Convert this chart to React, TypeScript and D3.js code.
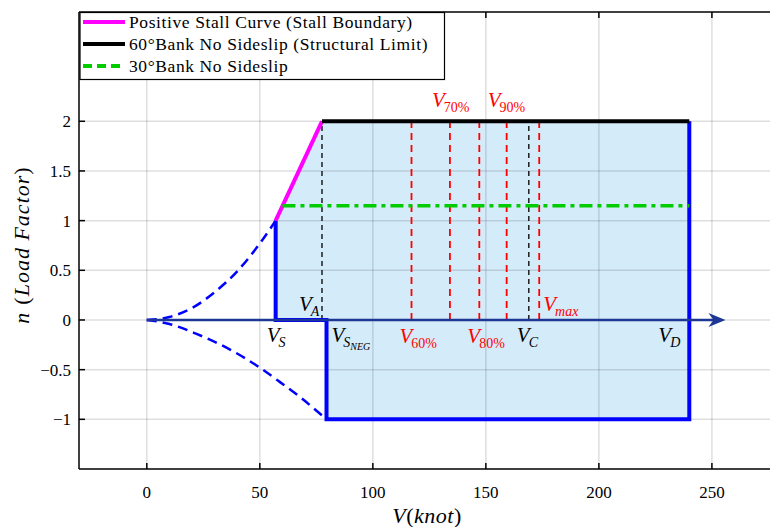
import React from "react";
import * as d3 from "d3";

// ---- data ----
const xTicks = [0, 50, 100, 150, 200, 250];
const yTicks = [-1, -0.5, 0, 0.5, 1, 1.5, 2];
const yTickLabels = ["\u22121", "\u22120.5", "0", "0.5", "1", "1.5", "2"];

const V_S = 57;
const V_A = 77.5;
const V_SNEG = 79.5;
const V_C = 169;
const V_D = 240;
const V_PCT = [117.1, 134.1, 147.1, 159.2];
const V_PCT_LABELS = ["60%", "70%", "80%", "90%"];
const V_MAX = 173.6;
const N_POS = 2;
const N_NEG = -1;
const N_30 = 1.15;
const V_30_START = 60;
const V_ARROW_END = 256;

// dashed stall curves
const posCurveV = [0, 10, 20, 30, 40, 50, 57];
const posCurveN = [0, 0.03, 0.12, 0.28, 0.49, 0.77, 1];
const negCurveV = [0, 10, 22, 37, 50, 58, 68, 79.5];
const negCurveN = [0, -0.04, -0.14, -0.3, -0.48, -0.61, -0.78, -1];

const legendLabels = [
  "Positive Stall Curve (Stall Boundary)",
  "60\u00b0Bank No Sideslip (Structural Limit)",
  "30\u00b0Bank No Sideslip",
];

const W = 770;
const H = 527;
const L = 79, R = 770, T = 12, B = 469;

const x = d3.scaleLinear().domain([-30, 275.7]).range([L, R]);
const y = d3.scaleLinear().domain([-1.5, 3.1]).range([B, T]);

const serif = "Times New Roman";

const line = d3
  .line<[number, number]>()
  .x((d) => x(d[0]))
  .y((d) => y(d[1]));
const curveLine = d3
  .line<[number, number]>()
  .x((d) => x(d[0]))
  .y((d) => y(d[1]))
  .curve(d3.curveMonotoneX);

function Sub({
  xPos,
  yPos,
  main,
  sub,
  sub2,
  color,
  subItalic,
}: {
  xPos: number;
  yPos: number;
  main: string;
  sub: string;
  sub2?: string;
  color: string;
  subItalic?: boolean;
}) {
  return (
    <text x={xPos} y={yPos} fill={color} style={{ fontFamily: serif }}>
      <tspan fontStyle="italic" fontSize={21}>
        {main}
      </tspan>
      <tspan fontStyle={subItalic ? "italic" : "normal"} fontSize={14} dy={5} dx={-1}>
        {sub}
      </tspan>
      {sub2 ? (
        <tspan fontStyle="italic" fontSize={10} dy={3}>
          {sub2}
        </tspan>
      ) : null}
    </text>
  );
}

export default function App() {
  const posCurve = posCurveV.map((v, i) => [v, posCurveN[i]] as [number, number]);
  const negCurve = negCurveV.map((v, i) => [v, negCurveN[i]] as [number, number]);

  const envelope: [number, number][] = [
    [V_S, 0],
    [V_S, 1],
    [V_A, N_POS],
    [V_D, N_POS],
    [V_D, N_NEG],
    [V_SNEG, N_NEG],
    [V_SNEG, 0],
  ];
  const blueOutline1: [number, number][] = [
    [V_S, 1],
    [V_S, 0],
    [V_SNEG, 0],
    [V_SNEG, N_NEG],
    [V_D, N_NEG],
    [V_D, N_POS],
  ];

  const y0 = y(0);
  const ax = x(V_ARROW_END);

  return (
    <svg
      width={W}
      height={H}
      style={{ position: "absolute", left: 0, top: 0, background: "#fff" }}
    >
      <defs>
        <clipPath id="plotClip">
          <rect x={L} y={T} width={R - L} height={B - T} />
        </clipPath>
      </defs>

      <path d={(line(envelope) || "") + "Z"} fill="#d4ebfa" />

      <g stroke="#000" strokeOpacity={0.13} strokeWidth={1.5}>
        {xTicks.map((t) => (
          <line key={"gx" + t} x1={x(t)} x2={x(t)} y1={T} y2={B} />
        ))}
        {yTicks.map((t) => (
          <line key={"gy" + t} x1={L} x2={R} y1={y(t)} y2={y(t)} />
        ))}
      </g>

      <g clipPath="url(#plotClip)">
        <path d={curveLine(posCurve) || ""} fill="none" stroke="#0000ff" strokeWidth={2.5} strokeDasharray="10,6" />
        <path d={curveLine(negCurve) || ""} fill="none" stroke="#0000ff" strokeWidth={2.5} strokeDasharray="10,6" />

        {[V_A, V_C].map((v) => (
          <line key={"k" + v} x1={x(v)} x2={x(v)} y1={y(0)} y2={y(N_POS)} stroke="#000" strokeWidth={1.3} strokeDasharray="5,4" />
        ))}
        {[...V_PCT, V_MAX].map((v) => (
          <line key={"r" + v} x1={x(v)} x2={x(v)} y1={y(0)} y2={y(N_POS)} stroke="#ff0000" strokeWidth={1.8} strokeDasharray="7,5" />
        ))}

        <path d={line(blueOutline1) || ""} fill="none" stroke="#0000ff" strokeWidth={4} />
        <path d={line([[V_S, 1], [V_A, N_POS]]) || ""} fill="none" stroke="#ff00ff" strokeWidth={4} />
        <path d={line([[V_A, N_POS], [V_D, N_POS]]) || ""} fill="none" stroke="#000" strokeWidth={4} />
        <path d={line([[V_30_START, N_30], [V_D, N_30]]) || ""} fill="none" stroke="#00cc00" strokeWidth={3.5} strokeDasharray="13,5,4,5" />

        <line x1={x(0)} x2={ax - 6} y1={y0} y2={y0} stroke="#1c3794" strokeWidth={2.5} />
        <path d={`M${ax},${y0} L${ax - 17},${y0 - 7} L${ax - 12},${y0} L${ax - 17},${y0 + 7} Z`} fill="#1c3794" />
      </g>

      <Sub xPos={x(V_A) - 23} yPos={311} main="V" sub="A" subItalic color="#000" />
      <Sub xPos={x(V_S) - 9} yPos={342} main="V" sub="S" subItalic color="#000" />
      <Sub xPos={x(V_SNEG) + 5} yPos={342} main="V" sub="S" sub2="NEG" subItalic color="#000" />
      <Sub xPos={x(V_PCT[0]) - 12} yPos={343} main="V" sub={V_PCT_LABELS[0]} color="#ff0000" />
      <Sub xPos={x(V_PCT[1]) - 18} yPos={107} main="V" sub={V_PCT_LABELS[1]} color="#ff0000" />
      <Sub xPos={x(V_PCT[2]) - 12} yPos={343} main="V" sub={V_PCT_LABELS[2]} color="#ff0000" />
      <Sub xPos={x(V_PCT[3]) - 19} yPos={107} main="V" sub={V_PCT_LABELS[3]} color="#ff0000" />
      <Sub xPos={x(V_C) - 12} yPos={342} main="V" sub="C" subItalic color="#000" />
      <Sub xPos={x(V_MAX) + 4} yPos={311} main="V" sub="max" subItalic color="#ff0000" />
      <Sub xPos={x(V_D) - 31} yPos={342} main="V" sub="D" subItalic color="#000" />

      <g stroke="#000" strokeWidth={1.5} fill="none">
        <line x1={L} x2={R + 2} y1={B} y2={B} />
        <line x1={L} x2={R + 2} y1={T} y2={T} />
        <line x1={L} x2={L} y1={T} y2={B} />
        {xTicks.map((t) => (
          <g key={"tx" + t}>
            <line x1={x(t)} x2={x(t)} y1={B} y2={B - 6} />
            <line x1={x(t)} x2={x(t)} y1={T} y2={T + 6} />
          </g>
        ))}
        {yTicks.map((t) => (
          <g key={"ty" + t}>
            <line x1={L} x2={L + 6} y1={y(t)} y2={y(t)} />
          </g>
        ))}
      </g>

      <g style={{ fontFamily: serif }} fontSize={17} fill="#000">
        {xTicks.map((t) => (
          <text key={"lx" + t} x={x(t)} y={498} textAnchor="middle">
            {t}
          </text>
        ))}
        {yTicks.map((t, i) => (
          <text key={"ly" + t} x={71} y={y(t) + 6} textAnchor="end">
            {yTickLabels[i]}
          </text>
        ))}
      </g>

      <text x={427} y={523} textAnchor="middle" style={{ fontFamily: serif }} fontSize={22} fontStyle="italic" letterSpacing={0.5}>
        V<tspan fontStyle="normal">(</tspan>knot<tspan fontStyle="normal">)</tspan>
      </text>
      <text
        transform={`translate(29,245) rotate(-90)`}
        textAnchor="middle"
        style={{ fontFamily: serif }}
        fontSize={22}
        fontStyle="italic"
        letterSpacing={1}
      >
        n<tspan fontStyle="normal" dx={7}>(</tspan>Load Factor<tspan fontStyle="normal">)</tspan>
      </text>

      <g>
        <rect x={80} y={12.5} width={364.5} height={67} fill="#fff" stroke="#000" strokeWidth={1.2} />
        {legendLabels.map((lab, i) => {
          const ly = 22 + i * 22;
          const colors = ["#ff00ff", "#000", "#00cc00"];
          return (
            <g key={lab}>
              <line x1={83} x2={125} y1={ly} y2={ly} stroke={colors[i]} strokeWidth={4} strokeDasharray={i === 2 ? "9,5" : undefined} />
              <text x={129} y={ly + 5.5} style={{ fontFamily: serif }} fontSize={17.5} letterSpacing={0.6} fill="#000">
                {lab}
              </text>
            </g>
          );
        })}
      </g>
    </svg>
  );
}
